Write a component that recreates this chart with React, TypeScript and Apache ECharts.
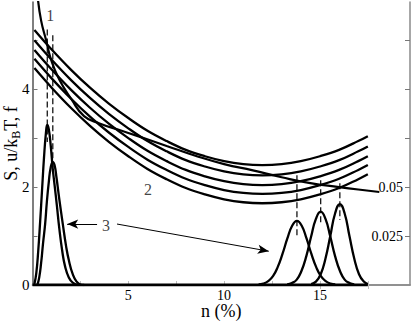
import React, { useEffect, useRef } from "react";
import * as echarts from "echarts";

// x grid (n, %) for the five U-shaped curves
const nGrid = [0.1, 1, 2, 3, 4, 5, 6, 7, 8, 9, 10, 11, 12, 13, 14, 15, 16, 17, 17.5];
const curveA = [5.21, 4.81, 4.4, 4.03, 3.7, 3.41, 3.15, 2.94, 2.76, 2.63, 2.53, 2.47, 2.45, 2.47, 2.53, 2.63, 2.76, 2.94, 3.04];
const curveB = [5.0, 4.6, 4.19, 3.82, 3.49, 3.2, 2.94, 2.73, 2.55, 2.42, 2.32, 2.26, 2.24, 2.26, 2.32, 2.42, 2.55, 2.73, 2.83];
const curveC = [4.8, 4.4, 3.99, 3.62, 3.29, 3.0, 2.74, 2.53, 2.35, 2.22, 2.12, 2.06, 2.04, 2.06, 2.12, 2.22, 2.35, 2.53, 2.63];
const curveD = [4.62, 4.22, 3.81, 3.44, 3.11, 2.82, 2.56, 2.35, 2.17, 2.04, 1.94, 1.88, 1.86, 1.88, 1.94, 2.04, 2.17, 2.35, 2.45];
const curveE = [4.43, 4.03, 3.62, 3.25, 2.92, 2.63, 2.37, 2.16, 1.98, 1.85, 1.75, 1.69, 1.67, 1.69, 1.75, 1.85, 1.98, 2.16, 2.26];

// curve 2 (decreasing)
const curve2N = [0.28, 0.45, 0.71, 0.97, 1.39, 2.02, 2.69, 3.5, 4.5, 5.5, 7, 8.5, 10, 11.5, 13, 14.5, 16, 17, 18.1];
const curve2S = [5.85, 5.4, 5.0, 4.6, 4.2, 3.8, 3.45, 3.3, 3.17, 3.04, 2.84, 2.64, 2.47, 2.34, 2.2, 2.08, 2.0, 1.95, 1.9];

// distributions (3)
const peak1N = [0.1, 0.2, 0.3, 0.4, 0.5, 0.6, 0.7, 0.77, 0.85, 0.95, 1.05, 1.15, 1.27, 1.4, 1.55, 1.7, 1.9, 2.1, 2.4];
const peak1F = [0.02, 0.25, 0.7, 1.3, 1.95, 2.6, 3.1, 3.27, 3.18, 2.85, 2.4, 2.05, 1.63, 1.15, 0.7, 0.38, 0.15, 0.05, 0];
const peak2N = [0.25, 0.35, 0.45, 0.55, 0.66, 0.75, 0.85, 0.95, 1.06, 1.15, 1.25, 1.4, 1.58, 1.75, 1.9, 2.1, 2.3, 2.5, 2.7];
const peak2F = [0, 0.15, 0.45, 0.85, 1.25, 1.7, 2.1, 2.4, 2.51, 2.45, 2.2, 1.75, 1.25, 0.8, 0.5, 0.22, 0.07, 0.01, 0];
const peak3N = [11.8, 12.05, 12.3, 12.55, 12.8, 13.05, 13.3, 13.55, 13.8, 14.05, 14.3, 14.55, 14.8, 15.05, 15.3, 15.55, 15.8];
const peak3F = [0.01, 0.03, 0.08, 0.18, 0.37, 0.64, 0.95, 1.21, 1.31, 1.21, 0.95, 0.64, 0.37, 0.18, 0.08, 0.03, 0.01];
const peak4N = [13.29, 13.54, 13.79, 14.04, 14.29, 14.54, 14.79, 15.04, 15.29, 15.54, 15.79, 16.04, 16.29, 16.54, 16.79];
const peak4F = [0.01, 0.04, 0.11, 0.29, 0.59, 0.99, 1.35, 1.5, 1.35, 0.99, 0.59, 0.29, 0.11, 0.04, 0.01];
const peak5N = [14.54, 14.79, 15.04, 15.29, 15.54, 15.79, 16.04, 16.29, 16.54, 16.79, 17.04, 17.29, 17.5];
const peak5F = [0.02, 0.07, 0.22, 0.54, 1.0, 1.46, 1.65, 1.46, 1.0, 0.54, 0.22, 0.07, 0.02];

const baselineN = [0, 17.5];
const baselineF = [0, 0];

// dashed verticals through the peaks
const dashN = [0.77, 1.06, 13.8, 15.04, 16.04];
const dashTop = [5.22, 5.1, 2.24, 2.14, 2.08];
const dashBottom = [2.92, 2.28, 0.98, 1.27, 1.33];

// annotations
const labelTexts = ["1", "2", "3"];
const labelN = [0.92, 6.03, 3.84];
const labelS = [5.51, 1.96, 1.22];
const arrowFromN = [3.37, 4.41];
const arrowFromS = [1.245, 1.245];
const arrowToN = [1.81, 12.33];
const arrowToS = [1.245, 0.69];

// axes
const xMin = 0;
const xMax = 19.7;
const yMax = 5.78;
const y2Max = 0.1445;
const xTicks = [2.5, 5, 7.5, 10, 12.5, 15, 17.5];
const xLabels = [5, 10, 15];
const yTicks = [1, 2, 3, 4, 5];
const yLabels = [0, 2, 4];
const y2Ticks = [0.025, 0.05, 0.075, 0.1, 0.125];
const y2Labels = [0.025, 0.05];

const FONT = "'Liberation Serif', 'Times New Roman', serif";

const pair = (xs: number[], ys: number[]) => xs.map((x, i) => [x, ys[i]]);

export default function App() {
  const ref = useRef<HTMLDivElement>(null);
  useEffect(() => {
    const chart = echarts.init(ref.current!, null, { renderer: "svg" });
    const black = "#000";
    const frame = "#8a8a8a";
    const lineS = (data: number[][], width = 2.3, smooth: number | boolean = 0.4) => ({
      type: "line",
      data,
      showSymbol: false,
      symbol: "none",
      smooth,
      lineStyle: { color: black, width },
      silent: true,
      z: 3,
    });
    const series: any[] = [];
    [curveA, curveB, curveC, curveD, curveE].forEach((c) => series.push(lineS(pair(nGrid, c))));
    series.push(lineS(pair(curve2N, curve2S), 2.2, 0.5));
    [
      [peak1N, peak1F],
      [peak2N, peak2F],
      [peak3N, peak3F],
      [peak4N, peak4F],
      [peak5N, peak5F],
    ].forEach(([a, b]) => series.push(lineS(pair(a, b), 2.3, 0.5)));
    series.push(lineS(pair(baselineN, baselineF), 3, false));
    dashN.forEach((n, i) =>
      series.push({
        type: "line",
        data: [
          [n, dashTop[i]],
          [n, dashBottom[i]],
        ],
        symbol: "none",
        lineStyle: { color: black, width: 1.2, type: [6, 3] },
        silent: true,
        z: 4,
      })
    );
    series.push({
      type: "scatter",
      symbolSize: 0,
      silent: true,
      data: labelTexts.map((t, i) => ({ name: t, value: [labelN[i], labelS[i]] })),
      label: {
        show: true,
        position: "inside",
        formatter: "{b}",
        color: "#111",
        fontFamily: FONT,
        fontSize: 16,
      },
      markLine: {
        silent: true,
        symbol: ["none", "arrow"],
        symbolSize: [7, 11],
        label: { show: false },
        lineStyle: { color: black, width: 1, type: "solid" },
        data: arrowFromN.map((n, i) => [
          { coord: [n, arrowFromS[i]] },
          { coord: [arrowToN[i], arrowToS[i]] },
        ]),
      },
    });

    chart.setOption({
      animation: false,
      textStyle: { fontFamily: FONT },
      grid: { left: 32.5, right: 5, top: 2, bottom: 37, outerBoundsMode: "none", containLabel: false },
      xAxis: [
        {
          type: "value",
          min: xMin,
          max: xMax,
          position: "bottom",
          name: "n (%)",
          nameLocation: "middle",
          nameGap: 17,
          nameMoveOverlap: false,
          nameTextStyle: { fontFamily: FONT, fontSize: 18, lineHeight: 18, color: "#000", verticalAlign: "top" },
          axisLine: { show: true, onZero: false, lineStyle: { color: frame, width: 1.5 } },
          axisTick: { show: true, inside: true, length: 4, customValues: xTicks, lineStyle: { color: "#bbb" } },
          axisLabel: { customValues: xLabels, fontFamily: FONT, fontSize: 14, lineHeight: 14, color: "#000", margin: 3 },
          splitLine: { show: false },
        },
        {
          type: "value",
          min: xMin,
          max: xMax,
          position: "top",
          axisLine: { show: true, lineStyle: { color: frame, width: 1.5 } },
          axisTick: { show: true, inside: true, length: 4, customValues: [15, 17.5], lineStyle: { color: "#bbb" } },
          axisLabel: { show: false },
          splitLine: { show: false },
        },
      ],
      yAxis: [
        {
          type: "value",
          min: 0,
          max: yMax,
          position: "left",
          name: "S, u/k{sub|B}T, f",
          nameLocation: "middle",
          nameGap: 11,
          nameMoveOverlap: false,
          nameTextStyle: {
            fontFamily: FONT,
            fontSize: 18,
            color: "#000",
            lineHeight: 22,
            rich: {
              sub: { fontFamily: FONT, fontSize: 12, lineHeight: 12, verticalAlign: "bottom", color: "#000" },
            },
          },
          axisLine: { show: true, onZero: false, lineStyle: { color: "#555", width: 1.5 } },
          axisTick: { show: true, inside: true, length: 5, customValues: yTicks, lineStyle: { color: "#777" } },
          axisLabel: { customValues: yLabels, fontFamily: FONT, fontSize: 15, color: "#000", margin: 3 },
          splitLine: { show: false },
        },
        {
          type: "value",
          min: 0,
          max: y2Max,
          position: "right",
          axisLine: { show: true, onZero: false, lineStyle: { color: frame, width: 1.5 } },
          axisTick: { show: true, inside: true, length: 5, customValues: y2Ticks, lineStyle: { color: "#777" } },
          axisLabel: {
            inside: true,
            customValues: y2Labels,
            fontFamily: FONT,
            fontSize: 14,
            color: "#000",
            margin: 7,
            formatter: (v: number) => String(v),
          },
          splitLine: { show: false },
        },
      ],
      series,
    });
    return () => chart.dispose();
  }, []);
  return <div ref={ref} style={{ position: "fixed", left: 0, top: 0, width: 415, height: 322, background: "#fff" }} />;
}
